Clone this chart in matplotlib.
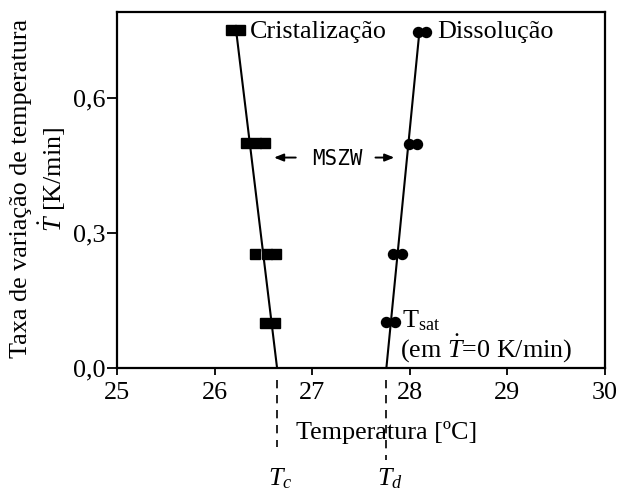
import matplotlib
matplotlib.use("Agg")
import matplotlib.pyplot as plt

plt.rcParams["font.family"] = ["Liberation Serif", "DejaVu Serif"]
plt.rcParams["mathtext.fontset"] = "custom"
plt.rcParams["mathtext.rm"] = "Liberation Serif"
plt.rcParams["mathtext.it"] = "Liberation Serif:italic"

# Measured cooling/heating rates [K/min] and the temperatures [°C] at which
# crystallization (squares) and dissolution (circles) were detected
cryst_rate = [0.75, 0.75, 0.50, 0.50, 0.50, 0.253, 0.253, 0.253, 0.10, 0.10]
cryst_temp = [26.17, 26.26, 26.32, 26.42, 26.52, 26.41, 26.54, 26.63, 26.52, 26.62]

diss_rate = [0.745, 0.745, 0.498, 0.498, 0.253, 0.253, 0.103, 0.103]
diss_temp = [28.08, 28.17, 27.99, 28.07, 27.83, 27.92, 27.76, 27.85]

# Linear fits, extrapolated to zero rate
cryst_fit_rate = [0.0, 0.75]
cryst_fit_temp = [26.64, 26.22]
diss_fit_rate = [0.0, 0.75]
diss_fit_temp = [27.76, 28.10]

T_c = cryst_fit_temp[0]
T_d = diss_fit_temp[0]

x_ticks = [25, 26, 27, 28, 29, 30]
y_ticks = [0.0, 0.3, 0.6]
y_tick_labels = ["0,0", "0,3", "0,6"]

FS = 18.8

fig = plt.figure(figsize=(6.17, 4.92), dpi=100)
ax = fig.add_axes([117 / 617, 1 - 368 / 492, (605 - 117) / 617, (368 - 12) / 492])

ax.plot(cryst_fit_temp, cryst_fit_rate, color="black", lw=1.5, zorder=2)
ax.plot(diss_fit_temp, diss_fit_rate, color="black", lw=1.5, zorder=2)
ax.plot(cryst_temp, cryst_rate, ls="none", marker="s", ms=6.5, color="black", zorder=3)
ax.plot(diss_temp, diss_rate, ls="none", marker="o", ms=7.2, color="black", zorder=3)

ax.set_xlim(25, 30)
ax.set_ylim(0, 0.79)
ax.set_xticks(x_ticks)
ax.set_xticklabels([str(v) for v in x_ticks])
ax.set_yticks(y_ticks)
ax.set_yticklabels(y_tick_labels)
ax.tick_params(axis="x", direction="out", length=5, width=1.3, pad=5, labelsize=FS)
ax.tick_params(axis="y", direction="out", length=7, width=1.3, pad=1.5, labelsize=FS)
for s in ax.spines.values():
    s.set_linewidth(1.6)

# Series labels
ax.text(26.36, 0.733, "Cristalização", fontsize=FS, ha="left", va="baseline")
ax.text(28.28, 0.733, "Dissolução", fontsize=FS, ha="left", va="baseline")

# Metastable zone width annotation
ax.text(27.26, 0.464, "MSZW", fontsize=15, family="DejaVu Sans Mono",
        ha="center", va="center")
arrow_kw = dict(arrowstyle="-|>,head_length=0.55,head_width=0.22", color="black", lw=1.4)
ax.annotate("", xy=(26.58, 0.467), xytext=(26.86, 0.467), arrowprops=arrow_kw)
ax.annotate("", xy=(27.87, 0.467), xytext=(27.62, 0.467), arrowprops=arrow_kw)

ax.text(27.92, 0.089, r"T$_{\mathrm{sat}}$", fontsize=FS, ha="left", va="baseline")
ax.text(27.90, 0.026, r"(em $\dot{T}$=0 K/min)", fontsize=FS, ha="left", va="baseline")

# Extrapolated zero-rate temperatures below the axis
for t, y_end in [(T_c, -0.176), (T_d, -0.204)]:
    ax.plot([t, t], [-0.027, y_end], color="black", lw=1.2, ls=(0, (5, 4)),
            clip_on=False)
ax.text(T_c + 0.03, -0.245, r"$T_c$", fontsize=FS, ha="center", va="center")
ax.text(T_d + 0.04, -0.245, r"$T_d$", fontsize=FS, ha="center", va="center")

ax.set_xlabel("Temperatura [ºC]", fontsize=FS)
ax.xaxis.set_label_coords(0.553, -0.148)

fig.text(21 / 617, 1 - 188 / 492, "Taxa de variação de temperatura", fontsize=FS,
         rotation=90, ha="center", va="center")
fig.text(52 / 617, 1 - 179 / 492, r"$\dot{T}$ [K/min]", fontsize=FS,
         rotation=90, ha="center", va="center")

fig.savefig("out.png", dpi=100)
